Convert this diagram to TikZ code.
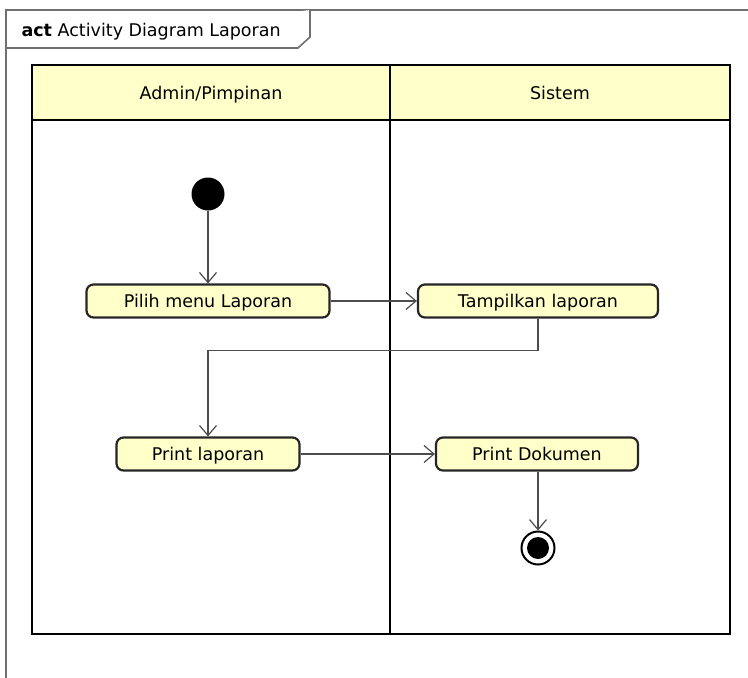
\documentclass[tikz,border=0pt]{standalone}
\usepackage{fontspec}
\setmainfont{DejaVu Sans}
\usetikzlibrary{arrows.meta,positioning}

\definecolor{umlfill}{HTML}{FFFFCA}
\definecolor{framegray}{HTML}{707070}

\tikzset{
	label text/.style={font=\fontsize{17.5}{20}\selectfont,text height=12.5pt,text depth=0pt},
	action/.style={label text,draw=black!85,line width=2.2pt,rounded corners=7pt,fill=umlfill,minimum height=33pt,inner sep=0pt},
	flow/.style={draw=black!70,line width=1.2pt,-{Straight Barb[length=10pt,width=17pt,line width=1.2pt]}},
	lane/.style={draw=black,line width=2.4pt},
}

\begin{document}
\begin{tikzpicture}[x=1pt,y=1pt]
	\useasboundingbox (0,0) rectangle (748,-678);
	% diagram frame and its tag
	\draw[framegray,line width=1.6pt] (6,-678) -- (6,-10) -- (748,-10);
	\draw[framegray,line width=1.6pt,fill=white] (6,-48) -- (298,-48) -- (310,-37) -- (310,-10);
	\node[label text,anchor=west] (tag) at (18,-30) {\textbf{act} Activity Diagram Laporan};
	% swimlanes
	\fill[umlfill] (32,-65) rectangle (730,-120);
	\draw[lane] (32,-65) rectangle (730,-634);
	\draw[lane] (32,-120) -- (730,-120);
	\draw[lane] (390,-65) -- (390,-634);
	\node[label text] (admin) at (211,-93) {Admin/Pimpinan};
	\node[label text] (sistem) at (560,-93) {Sistem};
	% nodes
	\node[circle,fill=black,minimum size=33pt,inner sep=0pt] (start) at (208,-194) {};
	\node[action,minimum width=243pt] (pilih) at (208,-301) {Pilih menu Laporan};
	\node[action,minimum width=240pt] (tampil) at (538,-301) {Tampilkan laporan};
	\node[action,minimum width=183pt] (printlap) at (208,-454) {Print laporan};
	\node[action,minimum width=202pt] (printdok) at (537,-454) {Print Dokumen};
	\node[circle,draw=black,line width=2pt,minimum size=33pt,inner sep=0pt] (end) at (538,-548) {};
	\fill (end.center) circle (11pt);
	% control flows
	\draw[flow] (start) -- (pilih);
	\draw[flow] (pilih) -- (tampil);
	\draw[flow] (tampil.south) -- ++(0,-32) -| (printlap.north);
	\draw[flow] (printlap) -- (printdok);
	\draw[flow] (printdok.south -| end) -- (end);
\end{tikzpicture}
\end{document}
